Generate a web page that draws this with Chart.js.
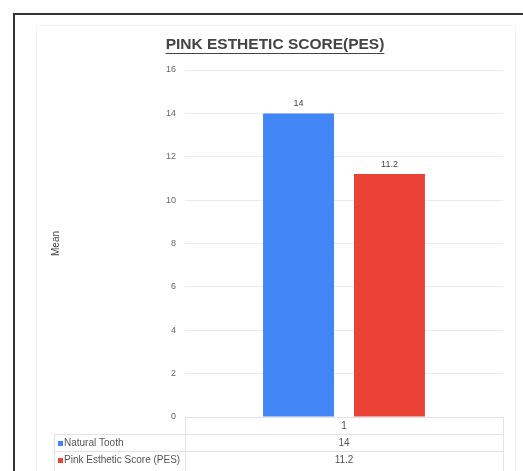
<!DOCTYPE html>
<html>
<head>
<meta charset="utf-8">
<script src="https://cdn.jsdelivr.net/npm/chart.js@4.4.1/dist/chart.umd.min.js"></script>
<style>
  html, body { margin: 0; padding: 0; background: #fff; }
  #wrap { width: 523px; height: 471px; position: relative; }
</style>
</head>
<body>
<div id="wrap"><canvas id="pesChart" width="523" height="471"></canvas></div>
<script>
// chart data
const categories = ['1'];
const seriesNames = ['Natural Tooth', 'Pink Esthetic Score (PES)'];
const naturalTooth = [14];
const pesScore = [11.2];
const yTicks = [0, 2, 4, 6, 8, 10, 12, 14, 16];
const chartTitle = 'PINK ESTHETIC SCORE(PES)';
const yTitle = 'Mean';

const FONT = '"Liberation Sans", Arial, sans-serif';
const colors = ['#4285f4', '#ea4335'];

// frame, title, value labels and data table
const decorPlugin = {
  id: 'decor',
  beforeDraw(chart) {
    const ctx = chart.ctx;
    ctx.save();
    // faint inner frame
    ctx.strokeStyle = '#f3f3f3';
    ctx.lineWidth = 1;
    ctx.beginPath();
    ctx.moveTo(36.5, 471);
    ctx.lineTo(36.5, 25.5);
    ctx.lineTo(515.5, 25.5);
    ctx.lineTo(515.5, 471);
    ctx.stroke();
    // outer dark border
    ctx.strokeStyle = '#333';
    ctx.lineWidth = 2;
    ctx.beginPath();
    ctx.moveTo(14, 471);
    ctx.lineTo(14, 14);
    ctx.lineTo(523, 14);
    ctx.stroke();
    ctx.restore();
  },
  afterDraw(chart) {
    const ctx = chart.ctx;
    const area = chart.chartArea;
    const xs = chart.scales.x;
    ctx.save();

    // title
    ctx.font = 'bold 15.5px ' + FONT;
    ctx.fillStyle = '#444';
    ctx.textAlign = 'center';
    ctx.textBaseline = 'middle';
    const tx = 275, ty = 45;
    ctx.fillText(chartTitle, tx, ty);
    const tw = ctx.measureText(chartTitle).width;
    ctx.strokeStyle = '#444';
    ctx.lineWidth = 1;
    ctx.beginPath();
    ctx.moveTo(tx - tw / 2, ty + 8.5);
    ctx.lineTo(tx + tw / 2, ty + 8.5);
    ctx.stroke();

    // value labels above bars
    ctx.font = '9px ' + FONT;
    ctx.fillStyle = '#444';
    ctx.textBaseline = 'alphabetic';
    chart.data.datasets.forEach((ds, i) => {
      chart.getDatasetMeta(i).data.forEach((bar, j) => {
        ctx.fillText(String(ds.data[j]), bar.x, bar.y - 7);
      });
    });

    // data table
    const rowH = 17;
    const top = area.bottom;
    const leftCol = 54;
    ctx.strokeStyle = '#e3e3e3';
    ctx.lineWidth = 1;
    ctx.beginPath();
    ctx.moveTo(area.left + 0.5, top + 0.5);
    ctx.lineTo(area.right + 0.5, top + 0.5);
    ctx.moveTo(leftCol + 0.5, top + rowH + 0.5);
    ctx.lineTo(area.right + 0.5, top + rowH + 0.5);
    ctx.moveTo(leftCol + 0.5, top + rowH * 2 + 0.5);
    ctx.lineTo(area.right + 0.5, top + rowH * 2 + 0.5);
    ctx.moveTo(area.left + 0.5, top);
    ctx.lineTo(area.left + 0.5, 471);
    ctx.moveTo(area.right + 0.5, top);
    ctx.lineTo(area.right + 0.5, 471);
    ctx.moveTo(leftCol + 0.5, top + rowH);
    ctx.lineTo(leftCol + 0.5, 471);
    ctx.stroke();

    ctx.font = '10px ' + FONT;
    ctx.fillStyle = '#555';
    ctx.textBaseline = 'middle';
    categories.forEach((c, j) => {
      const cx = xs.getPixelForValue(j);
      ctx.textAlign = 'center';
      ctx.fillText(c, cx, top + rowH / 2 + 1);
      chart.data.datasets.forEach((ds, i) => {
        ctx.fillText(String(ds.data[j]), cx, top + rowH * (i + 1.5) + 1);
      });
    });
    seriesNames.forEach((name, i) => {
      const cy = top + rowH * (i + 1.5) + 1;
      ctx.fillStyle = colors[i];
      ctx.fillRect(leftCol + 4, cy - 2.5, 5, 5);
      ctx.fillStyle = '#555';
      ctx.textAlign = 'left';
      ctx.fillText(name, leftCol + 10, cy);
    });
    ctx.restore();
  }
};

new Chart(document.getElementById('pesChart'), {
  type: 'bar',
  data: {
    labels: categories,
    datasets: [
      { label: seriesNames[0], data: naturalTooth, backgroundColor: colors[0] },
      { label: seriesNames[1], data: pesScore, backgroundColor: colors[1] }
    ]
  },
  options: {
    responsive: false,
    animation: false,
    devicePixelRatio: 1,
    layout: { padding: { left: 45, right: 20, top: 70, bottom: 54 } },
    datasets: { bar: { categoryPercentage: 0.572, barPercentage: 0.78 } },
    plugins: {
      legend: { display: false },
      title: { display: false },
      tooltip: { enabled: false }
    },
    scales: {
      x: { display: false },
      y: {
        min: 0,
        max: 16,
        afterFit(scale) { scale.width = 140; },
        afterBuildTicks(scale) { scale.ticks = yTicks.map(v => ({ value: v })); },
        border: { display: false },
        grid: { color: '#ebebeb', drawTicks: false, lineWidth: 1 },
        ticks: {
          color: '#666',
          font: { family: FONT, size: 9 },
          padding: 9
        },
        title: {
          display: true,
          text: yTitle,
          color: '#444',
          font: { family: FONT, size: 10 },
          padding: 5
        }
      }
    }
  },
  plugins: [decorPlugin]
});
</script>
</body>
</html>
